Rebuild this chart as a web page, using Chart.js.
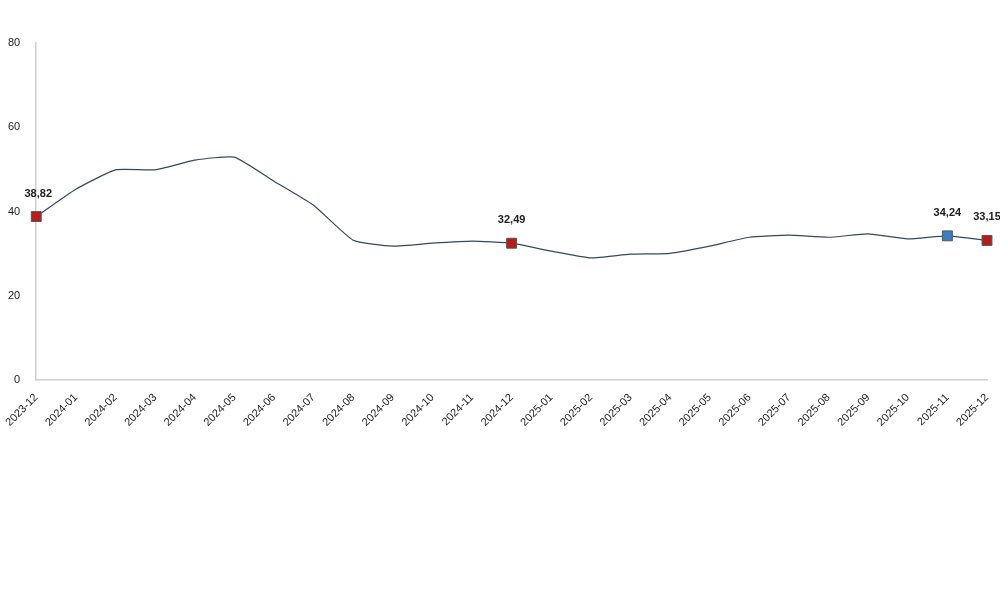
<!DOCTYPE html>
<html>
<head>
<meta charset="utf-8">
<script src="https://cdn.jsdelivr.net/npm/chart.js@4.4.1/dist/chart.umd.min.js"></script>
<style>
  body { margin: 0; background: #fff; }
  #wrap { width: 1000px; height: 593px; }
</style>
</head>
<body>
<div id="wrap"><canvas id="lineChart"></canvas></div>
<script>
let months = ["2023-12", "2024-01", "2024-02", "2024-03", "2024-04", "2024-05", "2024-06",
  "2024-07", "2024-08", "2024-09", "2024-10", "2024-11", "2024-12", "2025-01", "2025-02",
  "2025-03", "2025-04", "2025-05", "2025-06", "2025-07", "2025-08", "2025-09", "2025-10",
  "2025-11", "2025-12"];
let rates = [38.82, 45.3, 49.9, 49.9, 52.2, 52.9, 47.2, 41.5, 33.2, 31.8, 32.5, 33.0, 32.49,
  30.6, 29.0, 29.9, 30.1, 31.8, 33.9, 34.4, 33.9, 34.7, 33.5, 34.24, 33.15];
let yTicks = [0, 20, 40, 60, 80];
let markedIx = [0, 12, 23, 24];

let markerColors = [];
let markerSizes = [];
for (let i = 0; i < rates.length; i++) {
    markerColors[i] = i == 23 ? "#3a7fc0" : "#b51c1c";
    markerSizes[i] = markedIx.includes(i) ? 7 : 0;
}

// value labels above the marked points
let valueLabels = {
    id: "valueLabels",
    afterDatasetsDraw(chart) {
        let ctx = chart.ctx;
        let meta = chart.getDatasetMeta(0);
        ctx.save();
        ctx.font = "bold 11px 'Liberation Sans', Arial";
        ctx.fillStyle = "#222";
        ctx.textAlign = "center";
        markedIx.forEach(function (ix) {
            let pt = meta.data[ix];
            let txt = rates[ix].toFixed(2).replace(".", ",");
            let x = ix == 0 ? pt.x + 2 : pt.x;
            ctx.fillText(txt, x, pt.y - 20);
        });
        ctx.restore();
    }
};

new Chart("lineChart", {
    type: "line",
    data: {
        labels: months,
        datasets: [{
            data: rates,
            borderColor: "#34495e",
            borderWidth: 1.2,
            tension: 0.15,
            pointStyle: "rect",
            pointRadius: markerSizes,
            pointHoverRadius: markerSizes,
            pointBackgroundColor: markerColors,
            pointBorderColor: "#555",
            pointBorderWidth: 1
        }]
    },
    options: {
        responsive: true,
        maintainAspectRatio: false,
        animation: false,
        layout: { padding: { top: 43, right: 13, bottom: 161, left: 0 } },
        plugins: { legend: { display: false }, tooltip: { enabled: false } },
        scales: {
            x: {
                offset: false,
                grid: { display: false },
                border: { color: "#d0d0d0", width: 1.5 },
                ticks: {
                    color: "#222",
                    font: { size: 11, family: "'Liberation Sans', Arial" },
                    maxRotation: 45, minRotation: 45, autoSkip: false
                }
            },
            y: {
                min: 0, max: 80,
                afterBuildTicks(axis) { axis.ticks = yTicks.map(function (v) { return { value: v }; }); },
                grid: { display: false },
                border: { color: "#d0d0d0", width: 1.5 },
                ticks: {
                    color: "#222",
                    padding: 8,
                    font: { size: 11, family: "'Liberation Sans', Arial" }
                }
            }
        }
    },
    plugins: [valueLabels]
});
</script>
</body>
</html>
